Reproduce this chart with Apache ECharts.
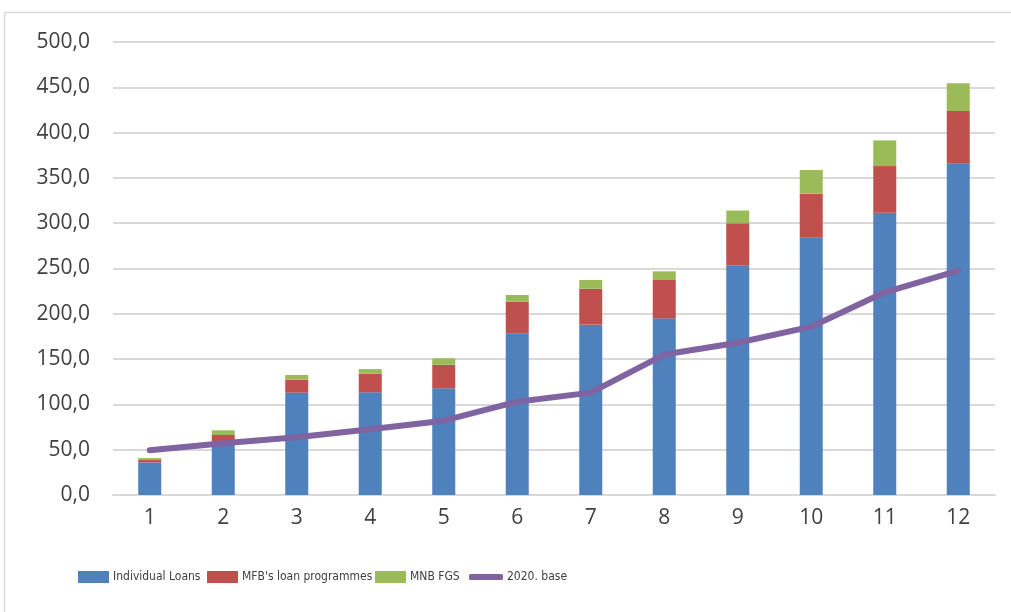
<!DOCTYPE html>
<html>
<head>
<meta charset="utf-8">
<script src="https://cdn.jsdelivr.net/npm/echarts@6/dist/echarts.min.js"></script>
<style>
html,body{margin:0;padding:0;background:#fff;}
#chart{width:1011px;height:612px;}
</style>
</head>
<body>
<div id="chart"></div>
<script>
const categories = ['1','2','3','4','5','6','7','8','9','10','11','12'];
const individualLoans = [36, 59.6, 113, 113.3, 117.8, 178.5, 188, 195, 253, 284, 311.6, 365.7];
const mfbLoanProgrammes = [2.6, 6.6, 14.3, 20.7, 26, 34.9, 39.7, 42.3, 46.9, 48.6, 51.4, 58.1];
const mnbFGS = [2.2, 5.2, 5.2, 5, 7.1, 7.4, 9.6, 9.6, 14.1, 26.1, 28.4, 30.6];
const base2020 = [49.3, 57, 63.7, 72.5, 82, 103, 113, 155, 168, 185.8, 223.7, 247.6];
const seriesNames = ['Individual Loans', "MFB's loan programmes", 'MNB FGS', '2020. base'];

const chart = echarts.init(document.getElementById('chart'), null, {renderer: 'canvas'});
const legendText = {fontFamily: '"Liberation Sans Narrow", "DejaVu Sans Condensed", "Liberation Sans", sans-serif', fontSize: 12, color: '#404040', padding: [0, 0, 0, -1]};
function legendAt(name, left, isLine) {
  return {
    data: [name], left: left, top: 571, itemGap: 0, padding: 0,
    itemWidth: isLine ? 34 : 31, itemHeight: isLine ? 6 : 12,
    icon: isLine ? 'roundRect' : 'rect',
    textStyle: legendText, selectedMode: false
  };
}
chart.setOption({
  animation: false,
  backgroundColor: '#fff',
  graphic: [{
    type: 'rect', shape: {x: 4.5, y: 12.5, width: 1100, height: 700},
    style: {fill: 'none', stroke: '#d9d9d9', lineWidth: 1.5}, silent: true, z: -1
  }],
  grid: {left: 113, right: 16, top: 42, bottom: 117},
  legend: [
    legendAt(seriesNames[0], 78, false),
    legendAt(seriesNames[1], 207, false),
    legendAt(seriesNames[2], 375, false),
    legendAt(seriesNames[3], 469, true)
  ],
  xAxis: {
    type: 'category', data: categories,
    axisLine: {show: true, lineStyle: {color: '#d9d9d9', width: 2}},
    axisTick: {show: false},
    axisLabel: {color: '#404040', fontSize: 21, fontFamily: '"Open Sans", sans-serif', margin: 13}
  },
  yAxis: {
    type: 'value', min: 0, max: 500, interval: 50,
    axisLine: {show: false}, axisTick: {show: false},
    splitLine: {lineStyle: {color: '#d9d9d9', width: 2}},
    axisLabel: {color: '#404040', fontSize: 21, fontFamily: '"Open Sans", sans-serif', margin: 23,
      formatter: v => v.toFixed(1).replace('.', ',')}
  },
  series: [
    {name: seriesNames[0], type: 'bar', stack: 'a', data: individualLoans, barWidth: 23, itemStyle: {color: '#4f81bd'}},
    {name: seriesNames[1], type: 'bar', stack: 'a', data: mfbLoanProgrammes, barWidth: 23, itemStyle: {color: '#c0504d'}},
    {name: seriesNames[2], type: 'bar', stack: 'a', data: mnbFGS, barWidth: 23, itemStyle: {color: '#9bbb59'}},
    {name: seriesNames[3], type: 'line', data: base2020, symbol: 'none', z: 5,
      lineStyle: {color: '#8064a2', width: 6, cap: 'round', join: 'round'}, itemStyle: {color: '#8064a2'}}
  ]
});
</script>
</body>
</html>
